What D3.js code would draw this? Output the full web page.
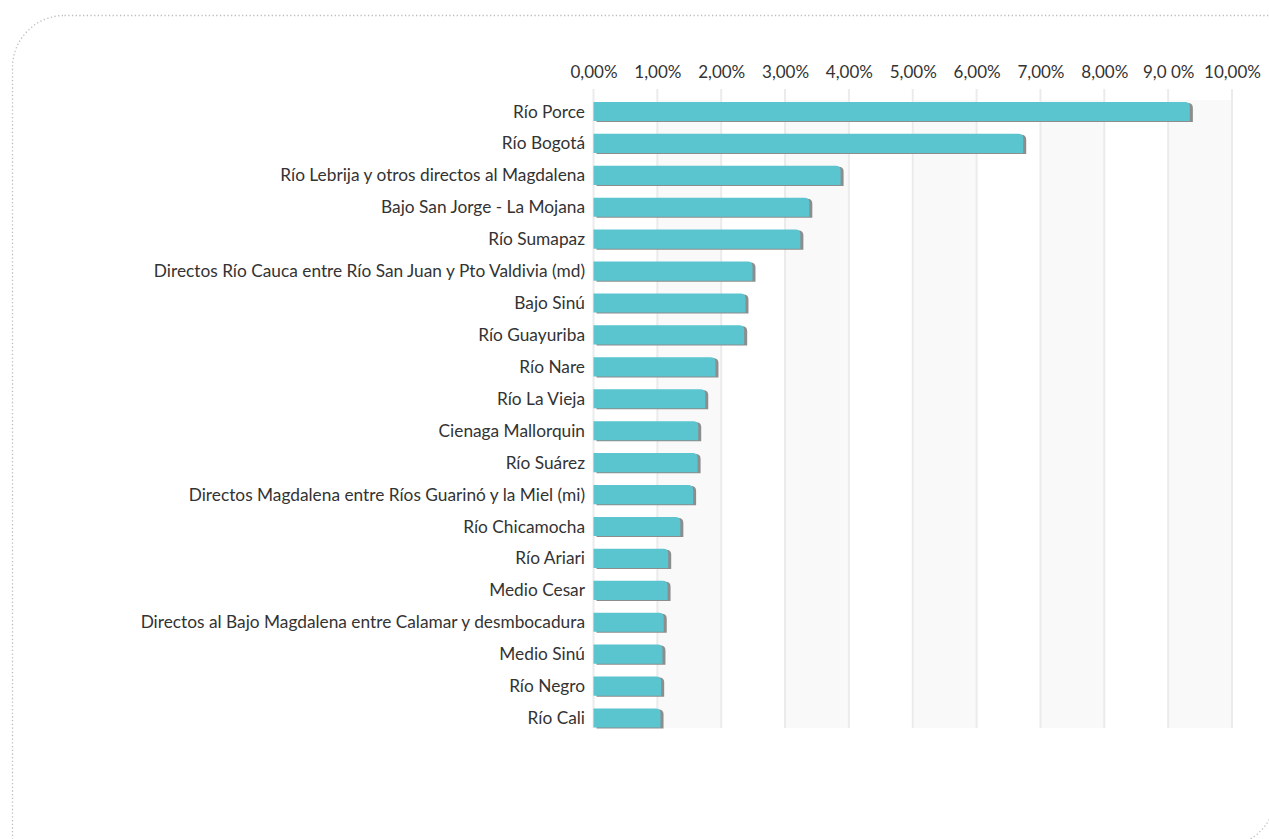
<!DOCTYPE html>
<html>
<head>
<meta charset="utf-8">
<script src="https://cdn.jsdelivr.net/npm/d3@7"></script>
<style>
  html, body { margin: 0; padding: 0; background: #fff; }
  svg { display: block; font-family: Lato, "Open Sans", sans-serif; }
</style>
</head>
<body>
<div id="chart"></div>
<script>
  "use strict";

  var width = 1269;
  var height = 839;

  // data
  var categories = [
    "Río Porce", "Río Bogotá", "Río Lebrija y otros directos al Magdalena",
    "Bajo San Jorge - La Mojana", "Río Sumapaz",
    "Directos Río Cauca entre Río San Juan y Pto Valdivia (md)", "Bajo Sinú",
    "Río Guayuriba", "Río Nare", "Río La Vieja", "Cienaga Mallorquin",
    "Río Suárez", "Directos Magdalena entre Ríos Guarinó y la Miel (mi)",
    "Río Chicamocha", "Río Ariari", "Medio Cesar",
    "Directos al Bajo Magdalena entre Calamar y desmbocadura", "Medio Sinú",
    "Río Negro", "Río Cali"
  ];
  var values = [9.34, 6.73, 3.87, 3.38, 3.24, 2.49, 2.38, 2.36, 1.91, 1.75,
                1.64, 1.63, 1.56, 1.36, 1.17, 1.16, 1.10, 1.08, 1.06, 1.05];
  var tickValues = [0, 1, 2, 3, 4, 5, 6, 7, 8, 9, 10];
  var tickLabels = ["0,00%", "1,00%", "2,00%", "3,00%", "4,00%", "5,00%",
                    "6,00%", "7,00%", "8,00%", "9,0 0%", "10,00%"];

  var svg = d3.select('#chart')
      .append('svg')
      .attr('width', width)
      .attr('height', height);

  // dotted frame with rounded top-left / bottom-right corners
  var fx0 = 12.5, fy0 = 15.5, fx1 = 1276, fy1 = 846, r = 52;
  svg.append('path')
      .attr('d', 'M' + (fx0 + r) + ',' + fy0 + ' L' + fx1 + ',' + fy0 +
                 ' L' + fx1 + ',' + (fy1 - r) +
                 ' A' + r + ',' + r + ' 0 0 1 ' + (fx1 - r) + ',' + fy1 +
                 ' L' + fx0 + ',' + fy1 + ' L' + fx0 + ',' + (fy0 + r) +
                 ' A' + r + ',' + r + ' 0 0 1 ' + (fx0 + r) + ',' + fy0 + ' Z')
      .attr('fill', 'none')
      .attr('stroke', '#bdbdbd')
      .attr('stroke-width', 1.3)
      .attr('stroke-dasharray', '1.3 2.4');

  var x = d3.scaleLinear().domain([0, 10]).range([593.5, 1232]);
  var y = d3.scaleBand().domain(categories).range([95.5, 734])
      .paddingInner(0.4).paddingOuter(0.2);

  var plotTop = 100, plotBottom = 728, gridTop = 89;

  // alternating bands
  svg.append('g').attr('class', 'bands')
      .selectAll('rect')
      .data([1, 3, 5, 7, 9])
      .enter().append('rect')
      .attr('x', function(d) { return x(d); })
      .attr('y', plotTop)
      .attr('width', function(d) { return x(d + 1) - x(d); })
      .attr('height', plotBottom - plotTop)
      .attr('fill', '#f9f9f9');

  // gridlines
  svg.append('g').attr('class', 'grid')
      .selectAll('line')
      .data(tickValues)
      .enter().append('line')
      .attr('x1', function(d) { return x(d); })
      .attr('x2', function(d) { return x(d); })
      .attr('y1', gridTop)
      .attr('y2', plotBottom)
      .attr('stroke', '#ebebeb')
      .attr('stroke-width', 2);

  // top axis
  var axis = svg.append('g')
      .attr('transform', 'translate(0,' + 78 + ')')
      .call(d3.axisTop(x)
          .tickValues(tickValues)
          .tickSize(0)
          .tickPadding(0)
          .tickFormat(function(d, i) { return tickLabels[i]; }));
  axis.select('.domain').remove();
  axis.selectAll('text')
      .attr('font-family', 'Lato, sans-serif')
      .attr('font-size', 17)
      .attr('fill', '#333');

  // bar shape: rounded top-right corner only
  function barPath(x0, y0, w, h, rr) {
    rr = Math.min(rr, w);
    return 'M' + x0 + ',' + y0 +
           ' L' + (x0 + w - rr) + ',' + y0 +
           ' Q' + (x0 + w) + ',' + y0 + ' ' + (x0 + w) + ',' + (y0 + rr) +
           ' L' + (x0 + w) + ',' + (y0 + h) +
           ' L' + x0 + ',' + (y0 + h) + ' Z';
  }

  var bars = svg.append('g').attr('class', 'bars')
      .selectAll('g')
      .data(values)
      .enter().append('g');

  bars.append('path')   // shadow
      .attr('d', function(d, i) {
        return barPath(x(0) + 3, y(categories[i]) + 1, x(d) - x(0), y.bandwidth(), 5);
      })
      .attr('fill', '#8d8d8d');

  bars.append('path')
      .attr('d', function(d, i) {
        return barPath(x(0), y(categories[i]), x(d) - x(0), y.bandwidth(), 5);
      })
      .attr('fill', '#5ac4cf');

  // category labels
  svg.append('g').attr('class', 'labels')
      .selectAll('text')
      .data(categories)
      .enter().append('text')
      .attr('x', 585)
      .attr('y', function(d) { return y(d) + y.bandwidth() / 2; })
      .attr('dy', '0.35em')
      .attr('text-anchor', 'end')
      .attr('font-size', 17.3)
      .attr('fill', '#333')
      .text(function(d) { return d; });
</script>
</body>
</html>
